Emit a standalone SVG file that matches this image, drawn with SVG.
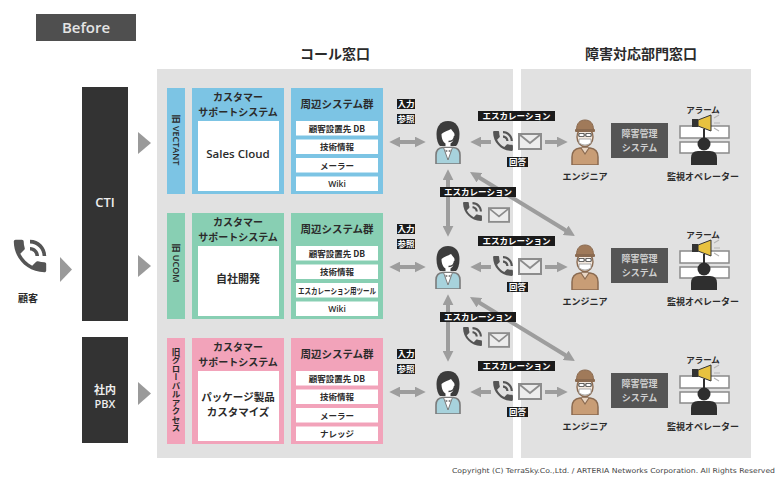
<svg xmlns="http://www.w3.org/2000/svg" width="775" height="483" viewBox="0 0 775 483">
<defs>
<style>
  .jp{font-family:"Noto Sans CJK JP","Noto Sans",sans-serif;font-weight:700;fill:#2b2b2b}
  .lat{font-family:"Open Sans","Noto Sans CJK JP",sans-serif;font-weight:600;fill:#2b2b2b}
  .mid{text-anchor:middle}
  .tag rect{fill:#1b1b1b}
  .tag text{font-family:"Noto Sans CJK JP",sans-serif;font-weight:700;font-size:8.5px;fill:#fff;text-anchor:middle}
  .panel{fill:#e1e1e1}
  .item{fill:#fff}
  .itxt{font-size:8.5px}
  .arw{stroke:#9d9d9d;stroke-width:4;fill:none}
  .tri{fill:#9a9a9a}
  .blue{fill:#7cc4e4}
  .green{fill:#88cfb3}
  .pink{fill:#f2a3ba}
  .dark{fill:#333}
  .light{fill:#eee}
</style>
<marker id="ah" viewBox="0 0 10 10" refX="3" refY="5" markerWidth="11" markerHeight="11" markerUnits="userSpaceOnUse" orient="auto-start-reverse">
  <path d="M0,0L10,5L0,10z" fill="#9d9d9d"/>
</marker>
<symbol id="phone" viewBox="2 2 20 20">
  <path fill="#555" d="M20 15.5c-1.250 0-2.450-.2-3.570-.57-.35-.11-.74-.03-1.020.24l-2.200 2.200c-2.830-1.440-5.150-3.750-6.590-6.590l2.200-2.210c.28-.26.36-.65.25-1C8.700 6.450 8.500 5.250 8.500 4c0-.55-.45-1-1-1H4c-.55 0-1 .45-1 1 0 9.390 7.610 17 17 17 .55 0 1-.45 1-1v-3.500c0-.55-.45-1-1-1zM19 12h2c0-4.970-4.030-9-9-9v2c3.870 0 7 3.130 7 7zm-4 0h2c0-2.760-2.240-5-5-5v2c1.660 0 3 1.340 3 3z"/>
</symbol>
<symbol id="mail" viewBox="0 0 24 17">
  <rect x="1" y="1" width="22" height="15" fill="#ececec" stroke="#8c8c8c" stroke-width="2"/>
  <path d="M1.5,1.5L12,10L22.5,1.5" fill="none" stroke="#8c8c8c" stroke-width="1.8"/>
</symbol>
<symbol id="operator" viewBox="0 0 30 44">
  <path d="M15,1C7,1 3.5,7 3.5,14C3.5,20 5,24 7,26H23C25,24 26.5,20 26.5,14C26.5,7 23,1 15,1Z" fill="#3c3c3c"/>
  <path d="M8.5,14C11,12 15,10.5 18,9C19.5,11 21,12.5 21.5,14C21.5,20 19,24 15,24C11,24 8.5,20 8.5,14Z" fill="#fff"/>
  <rect x="12.5" y="22" width="5" height="6" fill="#fff"/>
  <path d="M3,44V35Q3,28 10,27.5H20Q27,28 27,35V44Z" fill="#a7d2dc" stroke="#7b7b7b" stroke-width="1.6"/>
  <path d="M10.5,27.5L15,40L19.5,27.5Z" fill="#fff" stroke="#7b7b7b" stroke-width="1"/>
  <path d="M12.5,29.5L15,31L17.5,29.5V32.5L15,31L12.5,32.5Z" fill="#7b7b7b"/>
  <path d="M21.5,16Q21,21.5 15.5,21.5" stroke="#3c3c3c" stroke-width="1.3" fill="none"/>
</symbol>
<symbol id="engineer" viewBox="0 0 30 47">
  <path d="M2,47V39Q2,31 10,30H20Q28,31 28,39V47Z" fill="#c89d76" stroke="#8a6a50" stroke-width="1.5"/>
  <path d="M11,30L15,36L19,30" fill="#e9d6c4" stroke="#8a6a50" stroke-width="1.2"/>
  <ellipse cx="15" cy="19" rx="8" ry="9.5" fill="#f4e9df" stroke="#8a6a50" stroke-width="1.4"/>
  <path d="M6.5,12C6.5,5 10,2 15,2C20,2 23.5,5 23.5,12Z" fill="#a07a5a" stroke="#8a6a50" stroke-width="1"/>
  <rect x="5" y="11" width="20" height="3" rx="1" fill="#8a6a50"/>
  <path d="M8,17H22" stroke="#444" stroke-width="0.9"/>
  <rect x="9" y="15.5" width="5" height="3" fill="#fff" stroke="#444" stroke-width="0.8"/>
  <rect x="16" y="15.5" width="5" height="3" fill="#fff" stroke="#444" stroke-width="0.8"/>
  <path d="M9,21H21V25Q15,29 9,25Z" fill="#fff" stroke="#999" stroke-width="0.8"/>
</symbol>
</defs>

<rect width="775" height="483" fill="#fff"/>

<!-- background panels -->
<g id="call-center-panel">
  <rect class="panel" x="157" y="69" width="356" height="389"/>
  <text class="jp mid" x="335" y="59" font-size="14">コール窓口</text>
</g>
<g id="incident-dept-panel">
  <rect class="panel" x="521" y="69" width="230" height="389"/>
  <text class="jp mid" x="641" y="59" font-size="14">障害対応部門窓口</text>
</g>

<g id="before-tag">
  <rect x="36" y="14" width="100" height="27" fill="#4f4f4f"/>
  <text x="86" y="33" text-anchor="middle" font-family="'Open Sans',sans-serif" font-weight="600" font-size="15" fill="#e4e4e4">Before</text>
</g>

<g id="customer">
  <use href="#phone" x="12" y="238" width="36" height="36"/>
  <text class="jp mid" x="28" y="302" font-size="10">顧客</text>
</g>

<g id="cti">
  <rect class="dark" x="82" y="87" width="46" height="234"/>
  <text class="lat mid light" x="105" y="207" font-size="13" font-weight="400">CTI</text>
</g>
<g id="pbx">
  <rect class="dark" x="82" y="337" width="46" height="106"/>
  <text class="jp mid light" x="105" y="394" font-size="11" font-weight="400">社内</text>
  <text class="lat mid light" x="105" y="408" font-size="11" font-weight="400">PBX</text>
</g>

<!-- row 1 : VECTANT -->
<g id="vectant-label">
  <rect class="blue" x="167" y="88" width="18" height="106"/>
  <text class="lat mid" transform="translate(176,140) rotate(90)" dy="3.2" font-size="9" font-weight="700">旧 VECTANT</text>
</g>
<g id="vectant-support-system">
  <rect class="blue" x="192" y="88" width="92" height="106"/>
  <rect x="198" y="121" width="81" height="70" fill="#fff"/>
  <text class="jp mid" x="238" y="101" font-size="10">カスタマー</text>
  <text class="jp mid" x="238" y="116" font-size="10">サポートシステム</text>
  <text class="lat mid" x="238" y="158" font-size="11.5">Sales Cloud</text>
</g>
<g id="vectant-peripheral-systems">
  <rect class="blue" x="291" y="88" width="92" height="106"/>
  <text class="jp mid" x="337" y="108" font-size="10.5">周辺システム群</text>
  <rect class="item" x="296" y="121" width="82" height="14.5"/>
  <rect class="item" x="296" y="139.5" width="82" height="14.5"/>
  <rect class="item" x="296" y="158" width="82" height="14.5"/>
  <rect class="item" x="296" y="176.5" width="82" height="14.5"/>
  <text class="jp mid itxt" x="337" y="131.5">顧客設置先 DB</text>
  <text class="jp mid itxt" x="337" y="150">技術情報</text>
  <text class="jp mid itxt" x="337" y="168.5">メーラー</text>
  <text class="lat mid itxt" x="337" y="187" font-weight="700">Wiki</text>
</g>

<!-- row 2 : UCOM -->
<g id="ucom-label" transform="translate(0,125)">
  <rect class="green" x="167" y="88" width="18" height="106"/>
  <text class="lat mid" transform="translate(176,138) rotate(90)" dy="3.2" font-size="9" font-weight="700">旧 UCOM</text>
</g>
<g id="ucom-support-system" transform="translate(0,125)">
  <rect class="green" x="192" y="88" width="92" height="106"/>
  <rect x="198" y="121" width="81" height="70" fill="#fff"/>
  <text class="jp mid" x="238" y="101" font-size="10">カスタマー</text>
  <text class="jp mid" x="238" y="116" font-size="10">サポートシステム</text>
  <text class="jp mid" x="238" y="158" font-size="11">自社開発</text>
</g>
<g id="ucom-peripheral-systems" transform="translate(0,125)">
  <rect class="green" x="291" y="88" width="92" height="106"/>
  <text class="jp mid" x="337" y="108" font-size="10.5">周辺システム群</text>
  <rect class="item" x="296" y="121" width="82" height="14.5"/>
  <rect class="item" x="296" y="139.5" width="82" height="14.5"/>
  <rect class="item" x="296" y="158" width="82" height="14.5"/>
  <rect class="item" x="296" y="176.5" width="82" height="14.5"/>
  <text class="jp mid itxt" x="337" y="131.5">顧客設置先 DB</text>
  <text class="jp mid itxt" x="337" y="150">技術情報</text>
  <text class="jp mid" x="337" y="168.5" font-size="8" textLength="78" lengthAdjust="spacingAndGlyphs">エスカレーション用ツール</text>
  <text class="lat mid itxt" x="337" y="187" font-weight="700">Wiki</text>
</g>

<!-- row 3 : global access -->
<g id="global-access-label" transform="translate(0,250)">
  <rect class="pink" x="167" y="88" width="18" height="106"/>
  <text class="jp mid" x="176" y="140" font-size="8.5" style="writing-mode:vertical-rl">旧グローバルアクセス</text>
</g>
<g id="global-access-support-system" transform="translate(0,250)">
  <rect class="pink" x="192" y="88" width="92" height="106"/>
  <rect x="198" y="121" width="81" height="70" fill="#fff"/>
  <text class="jp mid" x="238" y="101" font-size="10">カスタマー</text>
  <text class="jp mid" x="238" y="116" font-size="10">サポートシステム</text>
  <text class="jp mid" x="238" y="151" font-size="10.5">パッケージ製品</text>
  <text class="jp mid" x="238" y="166" font-size="10.5">カスタマイズ</text>
</g>
<g id="global-access-peripheral-systems" transform="translate(0,250)">
  <rect class="pink" x="291" y="88" width="92" height="106"/>
  <text class="jp mid" x="337" y="108" font-size="10.5">周辺システム群</text>
  <rect class="item" x="296" y="121" width="82" height="14.5"/>
  <rect class="item" x="296" y="139.5" width="82" height="14.5"/>
  <rect class="item" x="296" y="158" width="82" height="14.5"/>
  <rect class="item" x="296" y="176.5" width="82" height="14.5"/>
  <text class="jp mid itxt" x="337" y="131.5">顧客設置先 DB</text>
  <text class="jp mid itxt" x="337" y="150">技術情報</text>
  <text class="jp mid itxt" x="337" y="168.5">メーラー</text>
  <text class="jp mid itxt" x="337" y="187">ナレッジ</text>
</g>

<!-- connectors -->
<g id="connectors">
  <path class="tri" d="M60,257L72,269.5L60,282Z"/>
  <path class="tri" d="M138,132L151,143L138,154Z"/>
  <path class="tri" d="M138,255L151,266L138,277Z"/>
  <path class="tri" d="M138,382L151,393.5L138,405Z"/>

  <g id="row-links-1">
    <path class="arw" d="M397,142H418" marker-start="url(#ah)" marker-end="url(#ah)"/>
    <path class="arw" d="M491,142H478" marker-end="url(#ah)"/>
    <path class="arw" d="M545,142H560" marker-end="url(#ah)"/>
  </g>
  <g id="row-links-2" transform="translate(0,125)">
    <path class="arw" d="M397,142H418" marker-start="url(#ah)" marker-end="url(#ah)"/>
    <path class="arw" d="M491,142H478" marker-end="url(#ah)"/>
    <path class="arw" d="M545,142H560" marker-end="url(#ah)"/>
  </g>
  <g id="row-links-3" transform="translate(0,250)">
    <path class="arw" d="M397,142H418" marker-start="url(#ah)" marker-end="url(#ah)"/>
    <path class="arw" d="M491,142H478" marker-end="url(#ah)"/>
    <path class="arw" d="M545,142H560" marker-end="url(#ah)"/>
  </g>

  <g id="cross-links-1">
    <path class="arw" d="M448,177V229" marker-start="url(#ah)" marker-end="url(#ah)"/>
    <path class="arw" d="M476.6,176L568.4,232" marker-start="url(#ah)" marker-end="url(#ah)"/>
  </g>
  <g id="cross-links-2" transform="translate(0,125)">
    <path class="arw" d="M448,177V229" marker-start="url(#ah)" marker-end="url(#ah)"/>
    <path class="arw" d="M476.6,176L568.4,232" marker-start="url(#ah)" marker-end="url(#ah)"/>
  </g>

  <!-- link labels and media icons -->
  <g id="row-labels-1">
    <g class="tag"><rect x="397" y="99" width="18" height="10"/><text x="406" y="107">入力</text></g>
    <g class="tag"><rect x="397" y="114" width="18" height="10"/><text x="406" y="122">参照</text></g>
    <g class="tag"><rect x="478" y="111" width="77" height="10"/><text x="516.5" y="119">エスカレーション</text></g>
    <g class="tag"><rect x="507" y="157" width="21" height="10"/><text x="517.5" y="165">回答</text></g>
    <use href="#phone" x="492" y="130" width="22" height="22"/>
    <use href="#mail" x="518" y="133" width="24" height="17"/>
  </g>
  <g id="row-labels-2" transform="translate(0,125)">
    <g class="tag"><rect x="397" y="99" width="18" height="10"/><text x="406" y="107">入力</text></g>
    <g class="tag"><rect x="397" y="114" width="18" height="10"/><text x="406" y="122">参照</text></g>
    <g class="tag"><rect x="478" y="111" width="77" height="10"/><text x="516.5" y="119">エスカレーション</text></g>
    <g class="tag"><rect x="507" y="157" width="21" height="10"/><text x="517.5" y="165">回答</text></g>
    <use href="#phone" x="492" y="130" width="22" height="22"/>
    <use href="#mail" x="518" y="133" width="24" height="17"/>
  </g>
  <g id="row-labels-3" transform="translate(0,250)">
    <g class="tag"><rect x="397" y="99" width="18" height="10"/><text x="406" y="107">入力</text></g>
    <g class="tag"><rect x="397" y="114" width="18" height="10"/><text x="406" y="122">参照</text></g>
    <g class="tag"><rect x="478" y="111" width="77" height="10"/><text x="516.5" y="119">エスカレーション</text></g>
    <g class="tag"><rect x="507" y="157" width="21" height="10"/><text x="517.5" y="165">回答</text></g>
    <use href="#phone" x="492" y="130" width="22" height="22"/>
    <use href="#mail" x="518" y="133" width="24" height="17"/>
  </g>
  <g id="cross-labels-1">
    <g class="tag"><rect x="440" y="187" width="76" height="10"/><text x="478" y="195">エスカレーション</text></g>
    <use href="#phone" x="462" y="201" width="21" height="21"/>
    <use href="#mail" x="488" y="207" width="22" height="16"/>
  </g>
  <g id="cross-labels-2" transform="translate(0,125)">
    <g class="tag"><rect x="440" y="187" width="76" height="10"/><text x="478" y="195">エスカレーション</text></g>
    <use href="#phone" x="462" y="201" width="21" height="21"/>
    <use href="#mail" x="488" y="207" width="22" height="16"/>
  </g>
</g>

<!-- operators -->
<g id="operator-1"><use href="#operator" x="433" y="120" width="30" height="44"/></g>
<g id="operator-2" transform="translate(0,125)"><use href="#operator" x="433" y="120" width="30" height="44"/></g>
<g id="operator-3" transform="translate(0,250)"><use href="#operator" x="433" y="120" width="30" height="44"/></g>

<!-- engineers -->
<g id="engineer-1">
  <use href="#engineer" x="570" y="118" width="30" height="47"/>
  <text class="jp mid" x="585" y="180" font-size="9">エンジニア</text>
</g>
<g id="engineer-2" transform="translate(0,125)">
  <use href="#engineer" x="570" y="118" width="30" height="47"/>
  <text class="jp mid" x="585" y="180" font-size="9">エンジニア</text>
</g>
<g id="engineer-3" transform="translate(0,250)">
  <use href="#engineer" x="570" y="118" width="30" height="47"/>
  <text class="jp mid" x="585" y="180" font-size="9">エンジニア</text>
</g>

<!-- incident management systems -->
<g id="incident-system-1">
  <rect x="611" y="123" width="57" height="35" fill="#555"/>
  <text class="jp mid" x="639.5" y="137" font-size="9" style="fill:#d0d0d0">障害管理</text>
  <text class="jp mid" x="639.5" y="151" font-size="9" style="fill:#d0d0d0">システム</text>
</g>
<g id="incident-system-2" transform="translate(0,125)">
  <rect x="611" y="123" width="57" height="35" fill="#555"/>
  <text class="jp mid" x="639.5" y="137" font-size="9" style="fill:#d0d0d0">障害管理</text>
  <text class="jp mid" x="639.5" y="151" font-size="9" style="fill:#d0d0d0">システム</text>
</g>
<g id="incident-system-3" transform="translate(0,250)">
  <rect x="611" y="123" width="57" height="35" fill="#555"/>
  <text class="jp mid" x="639.5" y="137" font-size="9" style="fill:#d0d0d0">障害管理</text>
  <text class="jp mid" x="639.5" y="151" font-size="9" style="fill:#d0d0d0">システム</text>
</g>

<!-- monitoring operators -->
<g id="monitoring-operator-1">
  <text class="jp mid" x="703" y="113" font-size="8.5">アラーム</text>
  <rect x="680" y="126" width="49" height="12" fill="#fff" stroke="#8a8a8a" stroke-width="1.5"/>
  <rect x="680" y="142" width="49" height="11" fill="#fff" stroke="#8a8a8a" stroke-width="1.5"/>
  <path d="M704,129V139" stroke="#2f2f2f" stroke-width="2"/>
  <circle cx="704" cy="144" r="6.5" fill="#2f2f2f"/>
  <path d="M691,165V158Q691,151 698,151H710Q717,151 717,158V165Z" fill="#2f2f2f"/>
  <rect x="692" y="119" width="6" height="8" fill="#333"/>
  <path d="M698,120L711,115V131L698,126Z" fill="#e8c23f" stroke="#333" stroke-width="1"/>
  <path d="M714,118L719,115M714,123H720M714,128L719,131" stroke="#b5b5b5" stroke-width="1.2"/>
  <text class="jp mid" x="703" y="180" font-size="9">監視オペレーター</text>
</g>
<g id="monitoring-operator-2" transform="translate(0,125)">
  <text class="jp mid" x="703" y="113" font-size="8.5">アラーム</text>
  <rect x="680" y="126" width="49" height="12" fill="#fff" stroke="#8a8a8a" stroke-width="1.5"/>
  <rect x="680" y="142" width="49" height="11" fill="#fff" stroke="#8a8a8a" stroke-width="1.5"/>
  <path d="M704,129V139" stroke="#2f2f2f" stroke-width="2"/>
  <circle cx="704" cy="144" r="6.5" fill="#2f2f2f"/>
  <path d="M691,165V158Q691,151 698,151H710Q717,151 717,158V165Z" fill="#2f2f2f"/>
  <rect x="692" y="119" width="6" height="8" fill="#333"/>
  <path d="M698,120L711,115V131L698,126Z" fill="#e8c23f" stroke="#333" stroke-width="1"/>
  <path d="M714,118L719,115M714,123H720M714,128L719,131" stroke="#b5b5b5" stroke-width="1.2"/>
  <text class="jp mid" x="703" y="180" font-size="9">監視オペレーター</text>
</g>
<g id="monitoring-operator-3" transform="translate(0,250)">
  <text class="jp mid" x="703" y="113" font-size="8.5">アラーム</text>
  <rect x="680" y="126" width="49" height="12" fill="#fff" stroke="#8a8a8a" stroke-width="1.5"/>
  <rect x="680" y="142" width="49" height="11" fill="#fff" stroke="#8a8a8a" stroke-width="1.5"/>
  <path d="M704,129V139" stroke="#2f2f2f" stroke-width="2"/>
  <circle cx="704" cy="144" r="6.5" fill="#2f2f2f"/>
  <path d="M691,165V158Q691,151 698,151H710Q717,151 717,158V165Z" fill="#2f2f2f"/>
  <rect x="692" y="119" width="6" height="8" fill="#333"/>
  <path d="M698,120L711,115V131L698,126Z" fill="#e8c23f" stroke="#333" stroke-width="1"/>
  <path d="M714,118L719,115M714,123H720M714,128L719,131" stroke="#b5b5b5" stroke-width="1.2"/>
  <text class="jp mid" x="703" y="180" font-size="9">監視オペレーター</text>
</g>

<g id="copyright">
  <text x="452" y="473" font-family="'DejaVu Sans',sans-serif" font-size="6.8" fill="#444" textLength="323" lengthAdjust="spacingAndGlyphs">Copyright (C) TerraSky.Co.,Ltd. / ARTERIA Networks Corporation. All Rights Reserved</text>
</g>
</svg>
